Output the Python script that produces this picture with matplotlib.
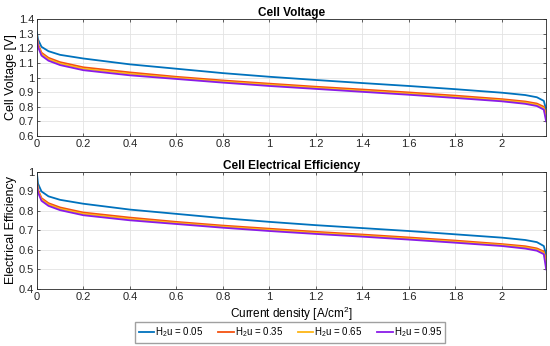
import matplotlib
matplotlib.use("Agg")
import matplotlib.pyplot as plt

plt.rcParams['font.family'] = ['Liberation Sans', 'DejaVu Sans']
plt.rcParams['mathtext.fontset'] = 'custom'
plt.rcParams['mathtext.rm'] = 'Liberation Sans'
plt.rcParams['mathtext.it'] = 'Liberation Sans:italic'

# current density [A/cm2]
j = [0, 0.005, 0.02, 0.05, 0.1, 0.2, 0.4, 0.6, 0.8, 1.0, 1.2, 1.4, 1.6,
     1.8, 2.0, 2.1, 2.15, 2.18, 2.19]

labels = ['H$_2$u = 0.05', 'H$_2$u = 0.35', 'H$_2$u = 0.65', 'H$_2$u = 0.95']
colors = ['#0072BD', '#F5520F', '#FDB515', '#8A1BE8']

# cell voltage [V]
v_005 = [1.31, 1.26, 1.21, 1.18, 1.155, 1.13, 1.09, 1.06, 1.03, 1.005, 0.983,
         0.962, 0.942, 0.92, 0.896, 0.88, 0.865, 0.84, 0.78]
v_035 = [1.285, 1.23, 1.17, 1.135, 1.105, 1.07, 1.035, 1.005, 0.98, 0.958,
         0.937, 0.918, 0.898, 0.876, 0.852, 0.836, 0.822, 0.80, 0.74]
v_065 = [1.275, 1.22, 1.16, 1.125, 1.095, 1.06, 1.025, 0.997, 0.972, 0.95,
         0.929, 0.909, 0.889, 0.867, 0.844, 0.828, 0.813, 0.79, 0.72]
v_095 = [1.265, 1.21, 1.15, 1.115, 1.085, 1.05, 1.015, 0.99, 0.965, 0.942,
         0.922, 0.902, 0.882, 0.86, 0.837, 0.82, 0.805, 0.78, 0.70]

# electrical efficiency [-]
e_005 = [0.995, 0.94, 0.90, 0.875, 0.857, 0.837, 0.807, 0.785, 0.763, 0.744,
         0.727, 0.712, 0.697, 0.68, 0.663, 0.651, 0.64, 0.62, 0.575]
e_035 = [0.955, 0.91, 0.866, 0.84, 0.818, 0.792, 0.766, 0.744, 0.725, 0.709,
         0.693, 0.679, 0.664, 0.648, 0.63, 0.619, 0.608, 0.592, 0.545]
e_065 = [0.945, 0.903, 0.859, 0.833, 0.811, 0.785, 0.759, 0.738, 0.719, 0.703,
         0.687, 0.673, 0.658, 0.642, 0.625, 0.613, 0.602, 0.585, 0.53]
e_095 = [0.935, 0.895, 0.852, 0.826, 0.804, 0.778, 0.752, 0.733, 0.714, 0.697,
         0.682, 0.668, 0.653, 0.637, 0.62, 0.607, 0.596, 0.578, 0.50]

volts = [v_005, v_035, v_065, v_095]
effs = [e_005, e_035, e_065, e_095]

fig = plt.figure(figsize=(5.5, 3.46), dpi=100)
ax1 = fig.add_axes([0.067, 0.607, 0.926, 0.338])
ax2 = fig.add_axes([0.067, 0.165, 0.926, 0.338])

for v, c, lab in zip(volts, colors, labels):
    ax1.plot(j, v, color=c, lw=1.3, label=lab)
for e, c in zip(effs, colors):
    ax2.plot(j, e, color=c, lw=1.3)

xticks = [0, 0.2, 0.4, 0.6, 0.8, 1, 1.2, 1.4, 1.6, 1.8, 2]
xlabs = ['0', '0.2', '0.4', '0.6', '0.8', '1', '1.2', '1.4', '1.6', '1.8', '2']

ax1.set_ylim(0.6, 1.4)
ax1.set_yticks([0.6, 0.7, 0.8, 0.9, 1, 1.1, 1.2, 1.3, 1.4])
ax1.set_yticklabels(['0.6', '0.7', '0.8', '0.9', '1', '1.1', '1.2', '1.3', '1.4'])
ax1.set_ylabel('Cell Voltage [V]', fontsize=9, labelpad=1)
ax1.set_title('Cell Voltage', fontsize=8.5, fontweight='bold', pad=2)

ax2.set_ylim(0.4, 1.0)
ax2.set_yticks([0.4, 0.5, 0.6, 0.7, 0.8, 0.9, 1])
ax2.set_yticklabels(['0.4', '0.5', '0.6', '0.7', '0.8', '0.9', '1'])
ax2.set_ylabel('Electrical Efficiency', fontsize=9, labelpad=1)
ax2.set_title('Cell Electrical Efficiency', fontsize=8.5, fontweight='bold', pad=2)
ax2.set_xlabel('Current density [A/cm$^2$]', fontsize=8.5, labelpad=2)

for ax in (ax1, ax2):
    ax.set_xlim(0, 2.19)
    ax.set_xticks(xticks)
    ax.set_xticklabels(xlabs)
    ax.grid(True, color='#e3e3e3', lw=0.6)
    ax.set_axisbelow(True)
    ax.tick_params(direction='in', length=2.5, width=0.5, labelsize=8,
                   top=True, right=True, colors='#262626', pad=2)
    for s in ax.spines.values():
        s.set_color('#262626')
        s.set_linewidth(0.6)

fig.legend(loc='center', bbox_to_anchor=(0.528, 0.039), ncol=4, fontsize=7,
           frameon=True, fancybox=False, edgecolor='#a0a0a0', handlelength=1.6,
           handletextpad=0.1, columnspacing=1.5, borderpad=0.35,
           framealpha=1)

fig.savefig('out.png', dpi=100)
